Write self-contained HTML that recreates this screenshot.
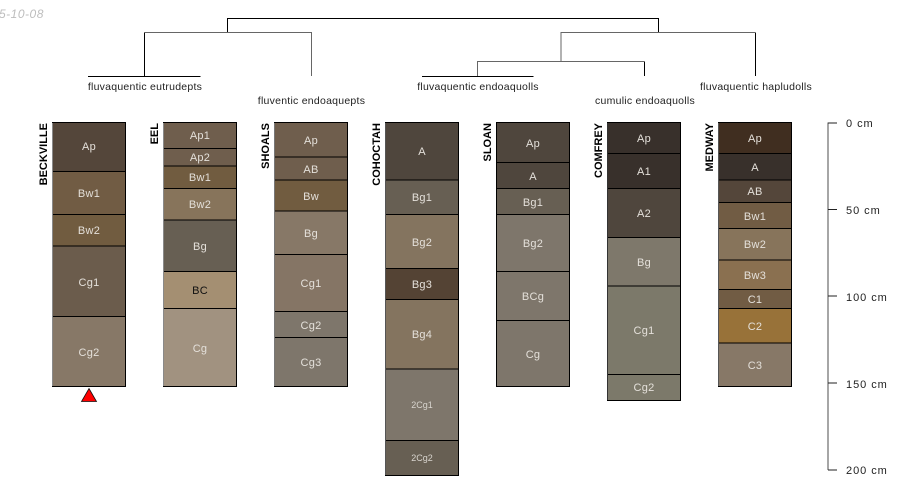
<!DOCTYPE html>
<html><head><meta charset="utf-8"><style>
html,body{margin:0;padding:0;background:#fff}
svg{display:block}
text{font-family:"Liberation Sans",sans-serif}
.h{font-size:11px;fill:#e4e0da;text-anchor:middle;letter-spacing:.25px}
.s{font-size:9px;fill:#d8d4ce;text-anchor:middle}
.n{font-size:11px;font-weight:bold;fill:#000;text-anchor:end}
.t{font-size:10.5px;fill:#222;text-anchor:middle;letter-spacing:.25px}
.c{font-size:11px;fill:#222;letter-spacing:.95px}
.r{stroke:#000;stroke-width:1}
</style></head><body>
<svg width="900" height="500" viewBox="0 0 900 500" xmlns="http://www.w3.org/2000/svg">
<text x="-1" y="18" font-size="12" font-style="italic" fill="#bdbdbd" letter-spacing=".5">5-10-08</text>
<g fill="none" stroke="#000" stroke-width="1">
<path d="M227.500 32V18.500H658.500V32"/>
<path d="M144.500 76V32.500"/>
<path d="M88 76.500H200.500"/>
<path d="M422 76.500H533.500"/>
<path d="M644.500 76V61.500"/>
<path d="M755.500 76V32.500"/>
</g>
<g fill="none" stroke="#666" stroke-width="1">
<path d="M144 32.500H311.500V76"/>
<path d="M561 61.500V32.500H755"/>
<path d="M477.500 76V61.500H644.500"/>
</g>
<text class="t" x="145" y="90">fluvaquentic eutrudepts</text>
<text class="t" x="311.500" y="104">fluventic endoaquepts</text>
<text class="t" x="478" y="90">fluvaquentic endoaquolls</text>
<text class="t" x="645" y="104">cumulic endoaquolls</text>
<text class="t" x="756" y="90">fluvaquentic hapludolls</text>

<!-- BECKVILLE -->
<g class="r">
<rect x="52.500" y="122.500" width="73" height="49" fill="#54463a"/>
<rect x="52.500" y="171.500" width="73" height="43" fill="#715c44"/>
<rect x="52.500" y="214.500" width="73" height="31.500" fill="#715c40"/>
<rect x="52.500" y="246" width="73" height="70.500" fill="#6b5c4c"/>
<rect x="52.500" y="316.500" width="73" height="70" fill="#877867"/>
</g>
<path d="M52.500 123V386" stroke="#8a8a8a" fill="none"/>
<text class="h" x="89" y="150">Ap</text><text class="h" x="89" y="197">Bw1</text><text class="h" x="89" y="234">Bw2</text><text class="h" x="89" y="286">Cg1</text><text class="h" x="89" y="356">Cg2</text>
<text class="n" transform="translate(47 123) rotate(-90)">BECKVILLE</text>
<path d="M89 388.500L96.500 401.500H81.500Z" fill="#f00" stroke="#111" stroke-width=".8"/>

<!-- EEL -->
<g class="r">
<rect x="163.500" y="122.500" width="73" height="26" fill="#6f5e4d"/>
<rect x="163.500" y="148.500" width="73" height="17.500" fill="#6f5e4d"/>
<rect x="163.500" y="166" width="73" height="22.500" fill="#715c40"/>
<rect x="163.500" y="188.500" width="73" height="31.500" fill="#87745b"/>
<rect x="163.500" y="220" width="73" height="51.500" fill="#675f53"/>
<rect x="163.500" y="271.500" width="73" height="37" fill="#a48f72"/>
<rect x="163.500" y="308.500" width="73" height="78" fill="#a19280"/>
</g>
<path d="M163.500 123V386" stroke="#8a8a8a" fill="none"/>
<text class="h" x="200" y="139">Ap1</text><text class="h" x="200" y="161">Ap2</text><text class="h" x="200" y="181">Bw1</text><text class="h" x="200" y="208">Bw2</text><text class="h" x="200" y="250">Bg</text><text class="h" x="200" y="294" style="fill:#111">BC</text><text class="h" x="200" y="352">Cg</text>
<text class="n" transform="translate(158 123) rotate(-90)">EEL</text>

<!-- SHOALS -->
<g class="r">
<rect x="274.500" y="122.500" width="73" height="34.500" fill="#6f5e4d"/>
<rect x="274.500" y="157" width="73" height="23" fill="#6f5e4d"/>
<rect x="274.500" y="180" width="73" height="31" fill="#715c40"/>
<rect x="274.500" y="211" width="73" height="43.500" fill="#877867"/>
<rect x="274.500" y="254.500" width="73" height="57" fill="#857565"/>
<rect x="274.500" y="311.500" width="73" height="26" fill="#7e766b"/>
<rect x="274.500" y="337.500" width="73" height="49" fill="#7e766b"/>
</g>
<path d="M274.500 123V386" stroke="#777" fill="none"/>
<text class="h" x="311" y="144">Ap</text><text class="h" x="311" y="173">AB</text><text class="h" x="311" y="200">Bw</text><text class="h" x="311" y="237">Bg</text><text class="h" x="311" y="287">Cg1</text><text class="h" x="311" y="329">Cg2</text><text class="h" x="311" y="366">Cg3</text>
<text class="n" transform="translate(269 123) rotate(-90)">SHOALS</text>

<!-- COHOCTAH -->
<g class="r">
<rect x="385.500" y="122.500" width="73" height="57.500" fill="#4f463d"/>
<rect x="385.500" y="180" width="73" height="34.500" fill="#675f53"/>
<rect x="385.500" y="214.500" width="73" height="54" fill="#84745f"/>
<rect x="385.500" y="268.500" width="73" height="31" fill="#544334"/>
<rect x="385.500" y="299.500" width="73" height="69.500" fill="#84745f"/>
<rect x="385.500" y="369" width="73" height="71.500" fill="#7e766b"/>
<rect x="385.500" y="440.500" width="73" height="35" fill="#675f53"/>
</g>
<path d="M385.500 123V475" stroke="#555" fill="none"/>
<text class="h" x="422" y="155">A</text><text class="h" x="422" y="201">Bg1</text><text class="h" x="422" y="246">Bg2</text><text class="h" x="422" y="288">Bg3</text><text class="h" x="422" y="338">Bg4</text><text class="s" x="422" y="408">2Cg1</text><text class="s" x="422" y="461">2Cg2</text>
<text class="n" transform="translate(380 123) rotate(-90)">COHOCTAH</text>

<!-- SLOAN -->
<g class="r">
<rect x="496.500" y="122.500" width="73" height="40" fill="#4f463d"/>
<rect x="496.500" y="162.500" width="73" height="26" fill="#4f463d"/>
<rect x="496.500" y="188.500" width="73" height="26" fill="#675f53"/>
<rect x="496.500" y="214.500" width="73" height="57" fill="#7e766b"/>
<rect x="496.500" y="271.500" width="73" height="49" fill="#7e766b"/>
<rect x="496.500" y="320.500" width="73" height="66" fill="#7e766b"/>
</g>
<text class="h" x="533" y="147">Ap</text><text class="h" x="533" y="180">A</text><text class="h" x="533" y="206">Bg1</text><text class="h" x="533" y="247">Bg2</text><text class="h" x="533" y="300">BCg</text><text class="h" x="533" y="358">Cg</text>
<text class="n" transform="translate(491 123) rotate(-90)">SLOAN</text>

<!-- COMFREY -->
<g class="r">
<rect x="607.500" y="122.500" width="73" height="31" fill="#38302b"/>
<rect x="607.500" y="153.500" width="73" height="35" fill="#38302b"/>
<rect x="607.500" y="188.500" width="73" height="49" fill="#4f463d"/>
<rect x="607.500" y="237.500" width="73" height="48.500" fill="#7e786b"/>
<rect x="607.500" y="286" width="73" height="88.500" fill="#7c796a"/>
<rect x="607.500" y="374.500" width="73" height="26" fill="#7c796a"/>
</g>
<path d="M607.500 123V400" stroke="#333" fill="none"/>
<text class="h" x="644" y="142">Ap</text><text class="h" x="644" y="175">A1</text><text class="h" x="644" y="217">A2</text><text class="h" x="644" y="266">Bg</text><text class="h" x="644" y="334">Cg1</text><text class="h" x="644" y="391">Cg2</text>
<text class="n" transform="translate(602 123) rotate(-90)">COMFREY</text>

<!-- MEDWAY -->
<g class="r">
<rect x="718.500" y="122.500" width="73" height="31" fill="#402e20"/>
<rect x="718.500" y="153.500" width="73" height="26.500" fill="#38302b"/>
<rect x="718.500" y="180" width="73" height="22.500" fill="#54463a"/>
<rect x="718.500" y="202.500" width="73" height="26" fill="#715c44"/>
<rect x="718.500" y="228.500" width="73" height="31.500" fill="#87745b"/>
<rect x="718.500" y="260" width="73" height="29.500" fill="#8a7050"/>
<rect x="718.500" y="289.500" width="73" height="19" fill="#715c44"/>
<rect x="718.500" y="308.500" width="73" height="34.500" fill="#987239"/>
<rect x="718.500" y="343" width="73" height="43.500" fill="#877867"/>
</g>
<path d="M718.500 123V386" stroke="#555" fill="none"/>
<text class="h" x="755" y="142">Ap</text><text class="h" x="755" y="171">A</text><text class="h" x="755" y="195">AB</text><text class="h" x="755" y="220">Bw1</text><text class="h" x="755" y="248">Bw2</text><text class="h" x="755" y="279">Bw3</text><text class="h" x="755" y="303">C1</text><text class="h" x="755" y="330">C2</text><text class="h" x="755" y="369">C3</text>
<text class="n" transform="translate(713 123) rotate(-90)">MEDWAY</text>

<!-- depth axis -->
<path d="M828 122.500V470" stroke="#777" stroke-width="1.300" fill="none"/>
<path d="M828 123H837M828 209.500H837M828 296H837M828 383H837M828 470H837" stroke="#222" stroke-width="1" fill="none"/>
<text class="c" x="846" y="127">0 cm</text>
<text class="c" x="846" y="214">50 cm</text>
<text class="c" x="846" y="301">100 cm</text>
<text class="c" x="846" y="388">150 cm</text>
<text class="c" x="846" y="474">200 cm</text>
</svg>
</body></html>
